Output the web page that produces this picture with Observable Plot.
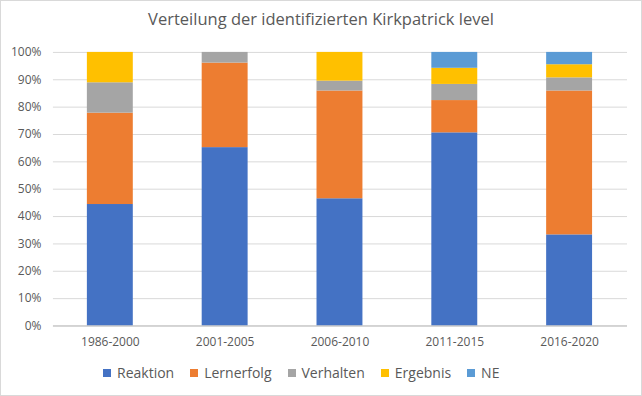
<!DOCTYPE html>
<html>
<head>
<meta charset="utf-8">
<script src="https://cdn.jsdelivr.net/npm/d3@7"></script>
<script src="https://cdn.jsdelivr.net/npm/@observablehq/plot@0.6"></script>
<style>
  html, body { margin: 0; padding: 0; background: #fff; }
  #chart { position: relative; width: 640px; height: 394px; border: 1px solid #d9d9d9; font-family: "Open Sans", sans-serif; color: #595959; overflow: hidden; }
  #title { position: absolute; top: 6px; left: 0; width: 640px; text-align: center; font-size: 16.5px; color: #595959; }
  #plot { position: absolute; top: -1px; left: -1px; }
  #legend { position: absolute; top: 362px; left: 102px; display: flex; gap: 16px; font-size: 14px; color: #595959; }
  #legend span.item { display: flex; align-items: center; }
  #legend span.sw { display: inline-block; width: 8px; height: 8px; margin-right: 6px; }
</style>
</head>
<body>
<div id="chart">
  <div id="title">Verteilung der identifizierten Kirkpatrick level</div>
  <div id="plot"></div>
  <div id="legend"></div>
</div>
<script>
const periods = ["1986-2000", "2001-2005", "2006-2010", "2011-2015", "2016-2020"];
const levels = ["Reaktion", "Lernerfolg", "Verhalten", "Ergebnis", "NE"];
const colors = ["#4472C4", "#ED7D31", "#A5A5A5", "#FFC000", "#5B9BD5"];
const reaktion   = [0.444, 0.652, 0.465, 0.706, 0.333];
const lernerfolg = [0.334, 0.309, 0.394, 0.118, 0.526];
const verhalten  = [0.111, 0.039, 0.036, 0.059, 0.048];
const ergebnis   = [0.111, 0.000, 0.105, 0.059, 0.048];
const ne         = [0.000, 0.000, 0.000, 0.058, 0.045];
const yTicks = [0, 0.1, 0.2, 0.3, 0.4, 0.5, 0.6, 0.7, 0.8, 0.9, 1.0];

const series = [reaktion, lernerfolg, verhalten, ergebnis, ne];
const data = [];
levels.forEach((lv, i) => periods.forEach((p, j) => data.push({period: p, level: lv, value: series[i][j]})));

const chart = Plot.plot({
  width: 642,
  height: 356,
  marginTop: 52,
  marginBottom: 30,
  marginLeft: 53,
  marginRight: 14,
  style: {fontFamily: "Open Sans, sans-serif", fontSize: "12px", color: "#595959", background: "transparent"},
  x: {domain: periods, paddingInner: 0.6, paddingOuter: 0.3, label: null, tickSize: 0, tickPadding: 12},
  y: {domain: [0, 1], ticks: yTicks, tickFormat: d3.format(".0%"), label: null, tickSize: 0, tickPadding: 12},
  color: {domain: levels, range: colors},
  marks: [
    Plot.gridY(yTicks, {stroke: "#d9d9d9", strokeOpacity: 1, strokeWidth: 1}),
    Plot.barY(data, {x: "period", y: "value", fill: "level", order: levels}),
    Plot.ruleY([0], {stroke: "#bfbfbf", strokeWidth: 1})
  ]
});
document.getElementById("plot").appendChild(chart);

const legend = document.getElementById("legend");
levels.forEach((lv, i) => {
  const item = document.createElement("span");
  item.className = "item";
  item.innerHTML = `<span class="sw" style="background:${colors[i]}"></span>${lv}`;
  legend.appendChild(item);
});
</script>
</body>
</html>
